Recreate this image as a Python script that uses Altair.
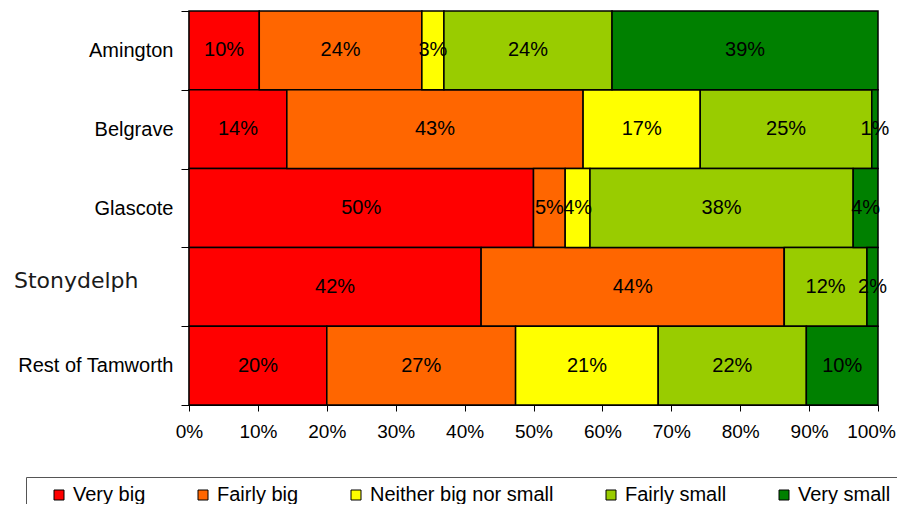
import altair as alt
import pandas as pd

areas = ["Amington", "Belgrave", "Glascote", "Stonydelph", "Rest of Tamworth"]
categories = ["Very big", "Fairly big", "Neither big nor small", "Fairly small", "Very small"]
colors = ["#FF0000", "#FF6600", "#FFFF00", "#99CC00", "#008000"]

very_big = [10.2, 14.2, 50.0, 42.4, 20.0]
fairly_big = [23.6, 43.0, 4.6, 44.0, 27.4]
neither = [3.2, 17.0, 3.6, 0.0, 20.7]
fairly_small = [24.4, 24.9, 38.2, 12.0, 21.5]
very_small = [38.6, 0.9, 3.6, 1.6, 10.4]

series = [very_big, fairly_big, neither, fairly_small, very_small]
rows = []
for ci, (cat, vals) in enumerate(zip(categories, series)):
    for area, v in zip(areas, vals):
        rows.append({"area": area, "cat": cat, "order": ci, "value": v,
                     "label": f"{int(v + 0.5)}%"})
df = pd.DataFrame(rows)

base = alt.Chart(df).transform_stack(
    stack="value", groupby=["area"], as_=["x0", "x1"],
    sort=[alt.SortField("order", "ascending")], offset="normalize"
).transform_calculate(xm="(datum.x0 + datum.x1) / 2")

is_st = "datum.value === 'Stonydelph'"
y_enc = alt.Y(
    "area:N", sort=areas, title=None,
    scale=alt.Scale(paddingInner=0, paddingOuter=0),
    axis=alt.Axis(
        tickBand="extent", tickSize=8, tickColor="black", domainColor="black",
        domainWidth=1.5,
        labelColor={"condition": {"test": is_st, "value": "#1a1a1a"}, "value": "black"},
        labelFont={"condition": {"test": is_st, "value": "DejaVu Sans"}, "value": "Liberation Sans"},
        labelFontSize={"condition": {"test": is_st, "value": 22}, "value": 20},
        labelPadding={"condition": {"test": is_st, "value": 43}, "value": 8},
        labelOffset={"condition": {"test": is_st, "value": -6}, "value": 0},
        labelLimit=300,
    ),
)

x_enc = alt.X(
    "x0:Q", title=None,
    scale=alt.Scale(domain=[0, 1], nice=False),
    axis=alt.Axis(values=[i / 10 for i in range(11)], format=".0%", tickSize=6,
                  tickColor="black", domainColor="black", labelFontSize=19,
                  labelFont="Liberation Sans", labelColor="black", labelPadding=11,
                  labelOffset={"condition": {"test": "datum.value >= 0.99", "value": -7}, "value": 0},
                  grid=False, labelFlush=False),
)

bars = base.mark_bar(stroke="black", strokeWidth=1.5).encode(
    y=y_enc,
    x=x_enc,
    x2="x1:Q",
    color=alt.Color(
        "cat:N", sort=categories, title=None,
        scale=alt.Scale(domain=categories, range=colors),
        legend=alt.Legend(
            orient="none", legendX=-163, legendY=466, direction="horizontal",
            strokeColor="#555555", fillColor="white", padding=8,
            symbolType="square", symbolSize=100, symbolStrokeColor="black",
            symbolStrokeWidth=1, symbolOffset=15, labelOffset=4,
            labelFontSize=20, labelFont="Liberation Sans", labelColor="black",
            columnPadding=32, labelLimit=400,
        ),
    ),
    order=alt.Order("order:Q"),
)

texts = base.transform_filter("datum.value > 0").mark_text(
    fontSize=20, font="Liberation Sans", color="black"
).encode(
    y=alt.Y("area:N", sort=areas),
    x=alt.X("xm:Q"),
    text="label:N",
)

chart = alt.layer(bars, texts).properties(
    width=689, height=394,
    autosize=alt.AutoSizeParams(type="none"),
    padding={"left": 181, "top": 3, "right": 19, "bottom": 99},
).configure_view(stroke=None)

chart.save("out.html", embed_options={"renderer": "svg", "actions": False})
